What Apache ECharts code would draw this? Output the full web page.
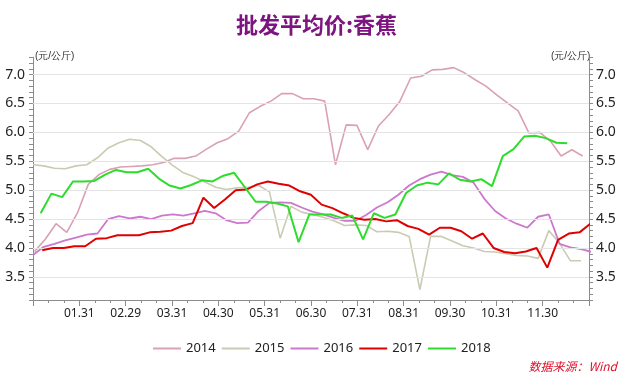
<!DOCTYPE html>
<html>
<head>
<meta charset="utf-8">
<script src="https://cdn.jsdelivr.net/npm/echarts@6/dist/echarts.min.js"></script>
<style>
html,body{margin:0;padding:0;background:#fff;}
#chart{width:633px;height:380px;}
</style>
</head>
<body>
<div id="chart"></div>
<script>
// ---- data ----
const titleText = '批发平均价:香蕉';
const unitText = '(元/公斤)';
const sourceText = '数据来源：Wind';
const xLabels = ['01.31','02.29','03.31','04.30','05.31','06.30','07.31','08.31','09.30','10.31','11.30'];
const years = ['2014','2015','2016','2017','2018'];
const startDay = [1, 0, 0, 6, 5];   // day of year of each series' first weekly observation
const stepDays = 7;                 // weekly data
const gridValues = [3.5, 4.0, 4.5, 5.0, 5.5, 6.0, 6.5, 7.0];

const v2014 = [3.94,4.15,4.42,4.27,4.61,5.10,5.27,5.36,5.40,5.41,5.42,5.44,5.48,5.55,5.55,5.59,5.71,5.82,5.89,6.02,6.34,6.45,6.54,6.67,6.67,6.58,6.58,6.54,5.44,6.13,6.12,5.70,6.11,6.31,6.54,6.94,6.97,7.08,7.09,7.12,7.03,6.91,6.80,6.65,6.51,6.37,5.99,6.00,5.85,5.59,5.70,5.59];
const v2015 = [5.44,5.42,5.38,5.37,5.42,5.44,5.56,5.73,5.82,5.88,5.86,5.75,5.58,5.43,5.30,5.23,5.14,5.05,5.01,5.04,5.05,5.08,4.97,4.17,4.72,4.62,4.58,4.53,4.47,4.39,4.40,4.39,4.28,4.29,4.27,4.20,3.28,4.20,4.20,4.12,4.04,4.00,3.94,3.93,3.90,3.87,3.86,3.82,4.30,4.08,3.78,3.78];
const v2016 = [3.88,4.02,4.07,4.13,4.18,4.23,4.25,4.50,4.55,4.51,4.54,4.50,4.56,4.58,4.56,4.60,4.64,4.60,4.48,4.43,4.44,4.64,4.78,4.79,4.78,4.70,4.63,4.58,4.52,4.47,4.47,4.57,4.70,4.79,4.92,5.08,5.19,5.27,5.32,5.26,5.23,5.13,4.85,4.64,4.51,4.42,4.35,4.54,4.58,4.07,4.01,3.98,3.93];
const v2017 = [3.96,4.00,4.00,4.03,4.03,4.16,4.17,4.22,4.22,4.22,4.27,4.28,4.30,4.38,4.43,4.87,4.69,4.84,5.00,5.01,5.10,5.15,5.11,5.08,4.98,4.92,4.75,4.69,4.60,4.52,4.49,4.50,4.46,4.48,4.38,4.33,4.23,4.35,4.35,4.29,4.16,4.25,4.00,3.93,3.91,3.94,4.00,3.66,4.14,4.25,4.27,4.42];
const v2018 = [4.60,4.94,4.88,5.15,5.15,5.16,5.27,5.35,5.31,5.31,5.37,5.20,5.08,5.03,5.09,5.17,5.15,5.25,5.30,5.05,4.80,4.80,4.77,4.72,4.10,4.58,4.58,4.58,4.52,4.56,4.15,4.60,4.52,4.58,4.95,5.08,5.13,5.10,5.29,5.18,5.15,5.19,5.07,5.59,5.71,5.93,5.94,5.90,5.82,5.81];
const seriesValues = [v2014, v2015, v2016, v2017, v2018];

// ---- style ----
const colors = ['#D9A2B2', '#C9CBB2', '#CC78CC', '#E00000', '#2EDC2E'];
const widths = [1.6, 1.6, 1.8, 2, 2];
const DAYS_PER_TICK = 10.06;  // axis ticks every ~10 days (36 ticks per year)
const numFont = "'Noto Sans', 'Liberation Sans', sans-serif";
const cjkFont = "'Noto Sans CJK SC', sans-serif";
const axisColor = '#8c8c8c';

function yFmt(v) {
  const r = Math.round(v * 10);
  return (r % 5 === 0 && r >= 35 && r <= 70) ? (r / 10).toFixed(1) : '';
}

const series = years.map((y, s) => ({
  name: y,
  type: 'line',
  symbol: 'none',
  smooth: false,
  yAxisIndex: 0,
  lineStyle: { color: colors[s], width: widths[s] },
  itemStyle: { color: colors[s] },
  z: 2 + s,
  data: seriesValues[s].map((v, i) => [(startDay[s] + stepDays * i) / DAYS_PER_TICK, v]),
  markLine: s === 0 ? {
    silent: true,
    symbol: 'none',
    label: { show: false },
    animation: false,
    lineStyle: { color: '#E4E4E4', width: 1, type: 'solid' },
    emphasis: { disabled: true },
    data: gridValues.map(g => ({ yAxis: g }))
  } : undefined
}));

const yAxisCommon = {
  type: 'value',
  min: 3.1,
  max: 7.3,
  interval: 0.1,
  axisLine: { show: true, lineStyle: { color: axisColor, width: 1 } },
  axisTick: { show: true, length: 4, lineStyle: { color: axisColor } },
  splitLine: { show: false },
  axisLabel: { formatter: yFmt, fontSize: 14, color: '#222', fontFamily: numFont, margin: 8 }
};

const chart = echarts.init(document.getElementById('chart'), null, { renderer: 'canvas' });
chart.setOption({
  animation: false,
  backgroundColor: '#ffffff',
  title: {
    text: titleText,
    left: 'center',
    top: 9,
    textStyle: { color: '#7D1480', fontSize: 22, fontWeight: 'bold', fontFamily: cjkFont }
  },
  grid: { left: 33, right: 44, top: 57.2, bottom: 80, containLabel: false },
  legend: {
    data: years,
    left: 148,
    top: 337,
    icon: 'rect',
    itemWidth: 28,
    itemHeight: 2,
    itemGap: 6,
    textStyle: { fontSize: 13, color: '#222', fontFamily: numFont }
  },
  xAxis: {
    type: 'value',
    min: 0,
    max: 36,
    interval: 3,
    axisLine: { show: true, onZero: false, lineStyle: { color: axisColor, width: 1 } },
    axisTick: { show: true, length: 6, lineStyle: { color: axisColor } },
    minorTick: { show: true, splitNumber: 3, length: 3, lineStyle: { color: axisColor } },
    splitLine: { show: false },
    minorSplitLine: { show: false },
    axisLabel: {
      fontSize: 12, color: '#222', fontFamily: numFont, margin: 8,
      formatter: function (v) {
        const k = Math.round(v / 3);
        return (k >= 1 && k <= xLabels.length) ? xLabels[k - 1] : '';
      }
    }
  },
  yAxis: [
    Object.assign({}, yAxisCommon, { position: 'left' }),
    Object.assign({}, yAxisCommon, { position: 'right', axisLabel: Object.assign({}, yAxisCommon.axisLabel, { margin: 7 }) })
  ],
  graphic: [
    { type: 'text', left: 35, top: 51, style: { text: unitText, fontSize: 10, fill: '#333', font: '10px ' + cjkFont } },
    { type: 'text', left: 551, top: 51, style: { text: unitText, fontSize: 10, fill: '#333', font: '10px ' + cjkFont } },
    { type: 'text', right: 16, top: 360, style: { text: sourceText, fill: '#E0102A', font: 'italic 12px ' + cjkFont } }
  ],
  series: series
});
</script>
</body>
</html>
